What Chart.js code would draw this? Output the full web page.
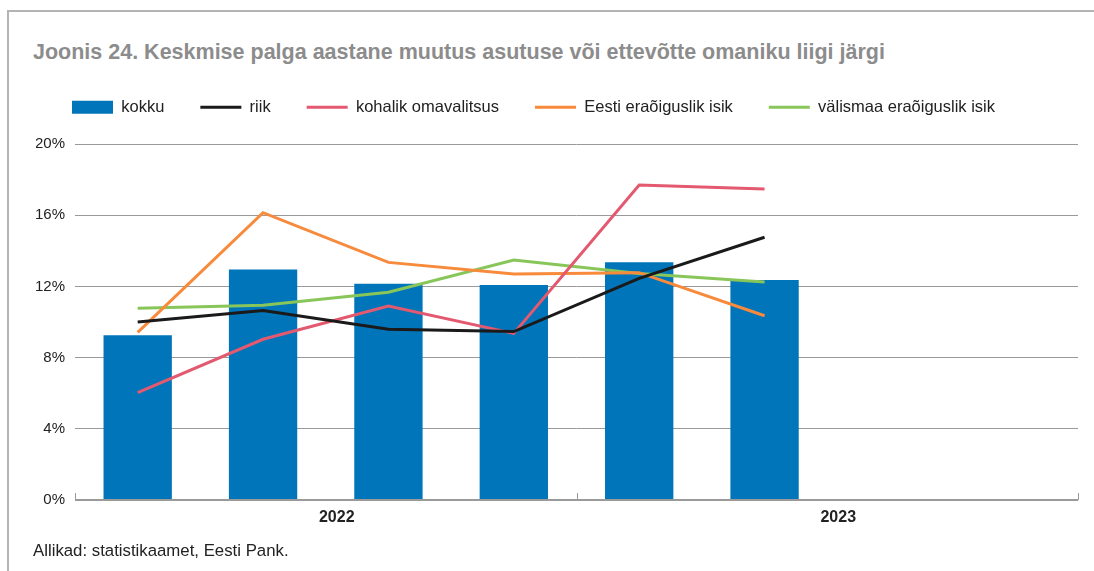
<!DOCTYPE html>
<html>
<head>
<meta charset="utf-8">
<script src="https://cdn.jsdelivr.net/npm/chart.js@4"></script>
<style>
  html, body { margin: 0; padding: 0; background: #fff; }
  #wrap { position: relative; width: 1094px; height: 571px; overflow: hidden; font-family: "Liberation Sans", Arial, sans-serif; }
  #frameTop { position: absolute; left: 8px; top: 10px; width: 1086px; height: 0; border-top: 2px solid #b4b4b4; }
  #frameLeft { position: absolute; left: 7px; top: 10px; width: 0; height: 561px; border-left: 2px solid #b4b4b4; }
  #title { position: absolute; left: 33px; top: 40px; font-size: 21.5px; font-weight: bold; color: #8c8c8c; white-space: nowrap; }
  #source { position: absolute; left: 33px; top: 541px; font-size: 16.8px; color: #222; white-space: nowrap; }
  #cv { position: absolute; left: 0; top: 0; }
</style>
</head>
<body>
<div id="wrap">
  <div id="frameTop"></div>
  <div id="frameLeft"></div>
  <div id="title">Joonis 24. Keskmise palga aastane muutus asutuse või ettevõtte omaniku liigi järgi</div>
  <canvas id="cv" width="1094" height="571"></canvas>
  <div id="source">Allikad: statistikaamet, Eesti Pank.</div>
</div>
<script>
// Quarters (8 slots: 4 in 2022, 4 in 2023)
const quarters = ['2022 I', '2022 II', '2022 III', '2022 IV', '2023 I', '2023 II', '2023 III', '2023 IV'];
const years = ['2022', '2023'];
const seriesNames = ['kokku', 'riik', 'kohalik omavalitsus', 'Eesti eraõiguslik isik', 'välismaa eraõiguslik isik'];

const kokku    = [9.25, 12.95, 12.15, 12.08, 13.35, 12.36, null, null];
const riik     = [10.0, 10.64, 9.59, 9.46, 12.45, 14.76, null, null];
const kohalik  = [6.03, 9.03, 10.9, 9.36, 17.7, 17.47, null, null];
const eesti    = [9.42, 16.14, 13.35, 12.7, 12.77, 10.35, null, null];
const valismaa = [10.77, 10.94, 11.67, 13.48, 12.73, 12.25, null, null];

const yTicks = [0, 4, 8, 12, 16, 20];

const yearGroups = [
  { label: years[0], from: 0, to: 3 },
  { label: years[1], from: 4, to: 7 }
];
const yearLabelShift = 11;
const legendBoxHeight = 81;

const axisColor = '#9a9a9a';

const legendHeightPlugin = {
  id: 'legendHeight',
  afterInit(chart) {
    const lg = chart.legend;
    if (!lg) return;
    const orig = lg.fit.bind(lg);
    lg.fit = function () { orig(); this.height = legendBoxHeight; };
  }
};

const yearAxisPlugin = {
  id: 'yearAxis',
  afterDraw(chart) {
    const ctx = chart.ctx;
    const x = chart.scales.x;
    const y = chart.scales.y;
    const y0 = y.getPixelForValue(0);
    const half = (x.getPixelForValue(1) - x.getPixelForValue(0)) / 2;
    ctx.save();
    ctx.strokeStyle = axisColor;
    ctx.lineWidth = 2;
    ctx.beginPath();
    ctx.moveTo(chart.chartArea.left, y0);
    ctx.lineTo(chart.chartArea.right, y0);
    ctx.stroke();
    ctx.lineWidth = 1;
    const bounds = [x.getPixelForValue(0) - half];
    yearGroups.forEach(g => bounds.push(x.getPixelForValue(g.to) + half));
    ctx.beginPath();
    bounds.forEach(b => {
      const bx = Math.round(b) + 0.5;
      ctx.moveTo(bx, y0);
      ctx.lineTo(bx, y0 - 7);
    });
    ctx.stroke();
    ctx.fillStyle = '#222';
    ctx.font = 'bold 16px "Liberation Sans", Arial, sans-serif';
    ctx.textAlign = 'center';
    ctx.textBaseline = 'middle';
    yearGroups.forEach(g => {
      const cx = (x.getPixelForValue(g.from) + x.getPixelForValue(g.to)) / 2 + yearLabelShift;
      ctx.fillText(g.label, cx, y0 + 18);
    });
    ctx.restore();
  }
};

const lineDs = (label, data, color) => ({
  type: 'line',
  label,
  data,
  borderColor: color,
  backgroundColor: color,
  borderWidth: 3,
  pointRadius: 0,
  pointHoverRadius: 0,
  pointStyle: 'line',
  tension: 0,
  fill: false,
  spanGaps: false,
  order: 0
});

new Chart(document.getElementById('cv'), {
  data: {
    labels: quarters,
    datasets: [
      {
        type: 'bar',
        label: seriesNames[0],
        data: kokku,
        backgroundColor: '#0075b9',
        borderColor: '#5aa3d3',
        borderWidth: 0,
        barPercentage: 1,
        categoryPercentage: 0.545,
        pointStyle: 'rect',
        order: 1
      },
      lineDs(seriesNames[1], riik, '#1a1a1a'),
      lineDs(seriesNames[2], kohalik, '#e3596f'),
      lineDs(seriesNames[3], eesti, '#f88a3c'),
      lineDs(seriesNames[4], valismaa, '#88c65a')
    ]
  },
  options: {
    responsive: false,
    animation: false,
    events: [],
    layout: { padding: { top: 63, left: 36, right: 16, bottom: 71 } },
    plugins: {
      title: { display: false },
      tooltip: { enabled: false },
      legend: {
        display: true,
        position: 'top',
        align: 'start',
        labels: {
          usePointStyle: true,
          pointStyleWidth: 41,
          boxWidth: 41,
          boxHeight: 13,
          padding: 36,
          color: '#222',
          font: { family: '"Liberation Sans", Arial, sans-serif', size: 16.5 },
          sort: (a, b) => a.datasetIndex - b.datasetIndex
        }
      }
    },
    scales: {
      x: {
        type: 'category',
        offset: true,
        grid: { display: false, drawTicks: false },
        border: { display: false },
        ticks: { display: false },
        afterFit(s) { s.height = 0; }
      },
      y: {
        min: 0,
        max: 20,
        afterBuildTicks(s) { s.ticks = yTicks.map(v => ({ value: v })); },
        afterFit(s) { s.width = 39; },
        grid: { color: axisColor, lineWidth: 1, drawTicks: false },
        border: { display: false },
        ticks: {
          padding: 10,
          color: '#222',
          font: { family: '"Liberation Sans", Arial, sans-serif', size: 15 },
          callback: v => v + '%'
        }
      }
    }
  },
  plugins: [legendHeightPlugin, yearAxisPlugin]
});
</script>
</body>
</html>
